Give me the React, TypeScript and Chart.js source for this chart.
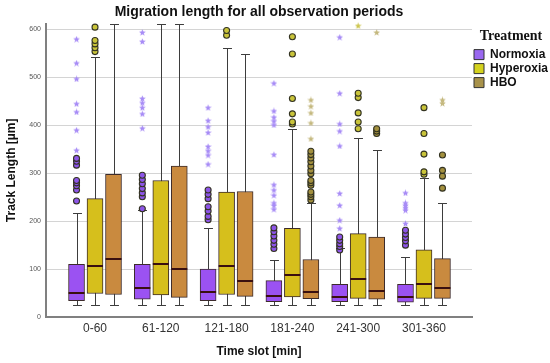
import React, { useEffect, useRef } from 'react';
import { Chart, registerables } from 'chart.js';

Chart.register(...registerables);

// ---------------- data ----------------
const categories = ['0-60', '61-120', '121-180', '181-240', '241-300', '301-360'];
const seriesNames = ['Normoxia', 'Hyperoxia', 'HBO'];

const normoxiaQ1 = [34, 37, 34, 32, 32, 31];
const normoxiaMedian = [51, 60, 53, 43, 42, 42];
const normoxiaQ3 = [110, 110, 100, 76, 68, 68];
const normoxiaLow = [26, 26, 26, 26, 26, 26];
const normoxiaHigh = [217, 224, 185, 119, 144, 126];
const normoxiaOutliers = [
  [242, 265, 274, 280, 285, 317, 325, 331],
  [226, 251, 259, 268, 278, 287, 296],
  [203, 210, 221, 230, 247, 256, 265],
  [143, 152, 160, 169, 178, 186],
  [140, 147, 153, 160, 167],
  [150, 159, 166, 173, 181],
];
const normoxiaExtremes = [
  [348, 390, 428, 445, 497, 530, 580],
  [394, 424, 437, 447, 456, 575, 594],
  [319, 338, 347, 356, 385, 397, 410, 437],
  [225, 233, 238, 254, 265, 276, 339, 401, 409, 417, 430, 488],
  [185, 202, 233, 258, 357, 388, 403, 467, 584],
  [195, 223, 228, 233, 238, 259],
];

const hyperoxiaQ1 = [49, 46, 47, 42, 39, 39];
const hyperoxiaMedian = [106, 111, 106, 88, 80, 68];
const hyperoxiaQ3 = [247, 285, 261, 185, 174, 140];
const hyperoxiaLow = [26, 26, 26, 26, 26, 26];
const hyperoxiaHigh = [542, 612, 562, 393, 374, 291];
const hyperoxiaOutliers = [
  [554, 562, 570, 577, 605],
  [],
  [588, 598],
  [403, 407, 424, 456, 549, 585],
  [393, 407, 426, 458, 467],
  [298, 303, 340, 383, 437],
];
const hyperoxiaExtremes = [[], [], [], [], [608], []];

const hboQ1 = [47, 41, 43, 38, 37, 39];
const hboMedian = [121, 100, 76, 53, 54, 60];
const hboQ3 = [298, 315, 262, 120, 167, 122];
const hboLow = [26, 26, 26, 26, 26, 26];
const hboHigh = [612, 612, 548, 238, 349, 237];
const hboOutliers = [
  [],
  [],
  [],
  [244, 251, 256, 261, 275, 280, 285, 299, 306, 315, 324, 332, 339, 346],
  [383, 388, 393],
  [269, 294, 306, 338],
];
const hboExtremes = [[], [], [], [372, 405, 426, 440, 453], [594], [446, 453]];

const yTickValues = [0, 100, 200, 300, 400, 500, 600];

// ---------------- styles ----------------
const boxColors = ['#9b52f2', '#d6bf1c', '#c98a3f'];
const legendColors = ['#9a68f0', '#d4d21e', '#a8924a'];
const circleColors = ['#8d55e8', '#c9c43a', '#a3903e'];
const starColors = ['#a78bf6', '#cdc650', '#c4b87e'];
const groupOffsets = [-0.281, 0, 0.281];
const SANS = "'Liberation Sans', Arial, Helvetica, sans-serif";
const SERIF = "'Liberation Serif', 'Times New Roman', serif";

const q1s = [normoxiaQ1, hyperoxiaQ1, hboQ1];
const q3s = [normoxiaQ3, hyperoxiaQ3, hboQ3];
const medians = [normoxiaMedian, hyperoxiaMedian, hboMedian];
const lows = [normoxiaLow, hyperoxiaLow, hboLow];
const highs = [normoxiaHigh, hyperoxiaHigh, hboHigh];
const outliers = [normoxiaOutliers, hyperoxiaOutliers, hboOutliers];
const extremes = [normoxiaExtremes, hyperoxiaExtremes, hboExtremes];

function makeStar(color: string, size = 7): HTMLCanvasElement {
  const c = document.createElement('canvas');
  c.width = size;
  c.height = size;
  const g = c.getContext('2d')!;
  const cx = size / 2, cy = size / 2 + 0.3, R = size / 2, r = size / 4.6;
  g.beginPath();
  for (let k = 0; k < 10; k++) {
    const rad = k % 2 === 0 ? R : r;
    const a = -Math.PI / 2 + (k * Math.PI) / 5;
    const px = cx + rad * Math.cos(a);
    const py = cy + rad * Math.sin(a);
    if (k === 0) g.moveTo(px, py); else g.lineTo(px, py);
  }
  g.closePath();
  g.fillStyle = color;
  g.fill();
  return c;
}

const boxPlugin = {
  id: 'boxWhiskers',
  beforeDatasetsDraw(chart: any) {
    const y = chart.scales.y;
    const ctx = chart.ctx;
    ctx.save();
    ctx.strokeStyle = '#3d3d3d';
    ctx.lineWidth = 1;
    for (let d = 0; d < 3; d++) {
      const meta = chart.getDatasetMeta(d);
      meta.data.forEach((el: any, i: number) => {
        const { x, width } = el.getProps(['x', 'width'], true);
        const xl = Math.round(x) + 0.5;
        const yl = Math.round(y.getPixelForValue(lows[d][i])) + 0.5;
        const yh = Math.round(y.getPixelForValue(highs[d][i])) + 0.5;
        const cw = width * 0.28;
        ctx.beginPath();
        ctx.moveTo(xl, yl);
        ctx.lineTo(xl, yh);
        ctx.moveTo(xl - cw, yl);
        ctx.lineTo(xl + cw, yl);
        ctx.moveTo(xl - cw, yh);
        ctx.lineTo(xl + cw, yh);
        ctx.stroke();
      });
    }
    ctx.restore();
  },
  afterDatasetsDraw(chart: any) {
    const y = chart.scales.y;
    const ctx = chart.ctx;
    ctx.save();
    ctx.strokeStyle = '#3a1010';
    ctx.lineWidth = 2;
    for (let d = 0; d < 3; d++) {
      const meta = chart.getDatasetMeta(d);
      meta.data.forEach((el: any, i: number) => {
        const { x, width } = el.getProps(['x', 'width'], true);
        const ym = Math.round(y.getPixelForValue(medians[d][i]));
        ctx.beginPath();
        ctx.moveTo(x - width / 2, ym);
        ctx.lineTo(x + width / 2, ym);
        ctx.stroke();
      });
    }
    ctx.restore();
  },
};

export default function App() {
  const ref = useRef<HTMLCanvasElement>(null);

  useEffect(() => {
    if (!ref.current) return;
    const datasets: any[] = [];
    for (let d = 0; d < 3; d++) {
      datasets.push({
        type: 'bar',
        label: seriesNames[d],
        data: categories.map((_, i) => ({ x: i + groupOffsets[d], y: [q1s[d][i], q3s[d][i]] })),
        backgroundColor: boxColors[d],
        borderColor: '#3c2b2b',
        borderWidth: 1,
        borderSkipped: false,
        grouped: false,
        barThickness: 16,
        maxBarThickness: 16,
        order: 2,
      });
    }
    for (let d = 0; d < 3; d++) {
      const pts: any[] = [];
      outliers[d].forEach((vals, i) => vals.forEach((v) => pts.push({ x: i + groupOffsets[d], y: v })));
      datasets.push({
        type: 'scatter',
        label: seriesNames[d] + ' outliers',
        data: pts,
        backgroundColor: circleColors[d],
        borderColor: '#333322',
        borderWidth: 1.1,
        pointRadius: 3,
        pointHoverRadius: 3,
        clip: false,
        order: 1,
      });
    }
    for (let d = 0; d < 3; d++) {
      const pts: any[] = [];
      extremes[d].forEach((vals, i) => vals.forEach((v) => pts.push({ x: i + groupOffsets[d], y: v })));
      datasets.push({
        type: 'scatter',
        label: seriesNames[d] + ' extremes',
        data: pts,
        pointStyle: makeStar(starColors[d], 7),
        pointRadius: 4,
        clip: false,
        order: 1,
      });
    }

    const chart = new Chart(ref.current, {
      type: 'bar',
      data: { datasets },
      plugins: [boxPlugin],
      options: {
        responsive: false,
        animation: false,
        devicePixelRatio: 1,
        layout: { padding: 0 },
        plugins: {
          tooltip: { enabled: false },
          title: {
            display: true,
            text: 'Migration length for all observation periods',
            fullSize: false,
            color: '#111',
            font: { family: SANS, size: 14, weight: 'bold' },
            padding: { top: 4, bottom: 3 },
          },
          legend: {
            display: true,
            position: 'right',
            align: 'start',
            fullSize: false,
            maxWidth: 78,
            title: {
              display: true,
              text: 'Treatment',
              color: '#111',
              font: { family: SERIF, size: 14, weight: 'bold' },
              padding: { top: 6, bottom: 0 },
            },
            labels: {
              boxWidth: 10,
              boxHeight: 10,
              padding: 2,
              color: '#111',
              font: { family: SANS, size: 12, weight: 'bold' },
              filter: (item: any) => item.datasetIndex < 3,
              generateLabels: (chart: any) => {
                const items = (Chart.defaults.plugins.legend.labels as any).generateLabels(chart);
                return items
                  .filter((it: any) => it.datasetIndex < 3)
                  .map((it: any) => ({
                    ...it,
                    fillStyle: legendColors[it.datasetIndex],
                    strokeStyle: '#333',
                    lineWidth: 1,
                  }));
              },
            },
          },
        },
        scales: {
          x: {
            type: 'linear',
            min: -0.745,
            max: 5.73,
            offset: false,
            grid: { display: false, drawTicks: false },
            border: { display: true, color: '#808080', width: 2 },
            ticks: {
              stepSize: 1,
              includeBounds: false,
              autoSkip: false,
              maxRotation: 0,
              padding: 4,
              color: '#333',
              font: { family: SANS, size: 12 },
              callback: (v: any) => {
                const n = Number(v);
                return Number.isInteger(n) && categories[n] ? categories[n] : '';
              },
            },
            title: {
              display: true,
              text: 'Time slot [min]',
              color: '#111',
              font: { family: SANS, size: 12, weight: 'bold' },
              padding: { top: 4, bottom: 4 },
            },
            afterFit: (s: any) => {
              s.height = 46;
            },
          },
          y: {
            type: 'linear',
            min: 0,
            max: 612,
            grid: { display: true, drawTicks: false, color: '#d4d4d4', lineWidth: 1 },
            border: { display: true, color: '#808080', width: 2 },
            ticks: {
              stepSize: 100,
              includeBounds: false,
              padding: 5,
              color: '#555',
              font: { family: SANS, size: 7 },
              callback: (v: any) => (yTickValues.includes(Number(v)) ? String(v) : ''),
            },
            title: {
              display: true,
              text: 'Track Length [µm]',
              color: '#111',
              font: { family: SANS, size: 12, weight: 'bold' },
              padding: { top: 4, bottom: 4 },
            },
            afterFit: (s: any) => {
              s.width = 46;
            },
          },
        },
      } as any,
    });
    return () => chart.destroy();
  }, []);

  return (
    <div style={{ position: 'absolute', left: 0, top: 0, width: 550, height: 363, background: '#fff' }}>
      <canvas ref={ref} width={550} height={363} />
    </div>
  );
}
